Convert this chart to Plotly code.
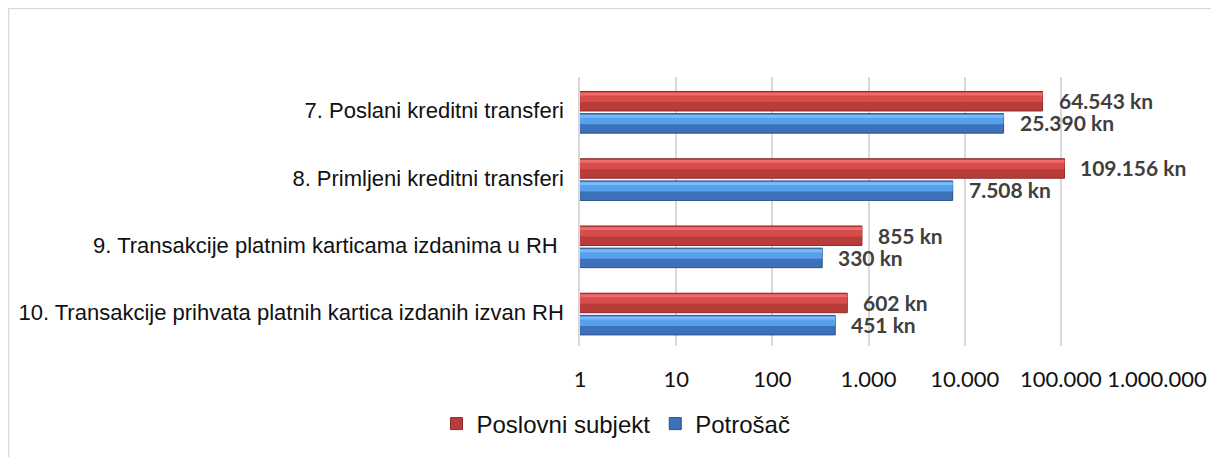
import numpy as np
import plotly.graph_objects as go

# --- Data ---
categories = [
    "7. Poslani kreditni transferi",
    "8. Primljeni kreditni transferi",
    "9. Transakcije platnim karticama izdanima u RH ",
    "10. Transakcije prihvata platnih kartica izdanih izvan RH",
]
poslovni = [64543, 109156, 855, 602]
potrosac = [25390, 7508, 330, 451]
tick_vals = [1, 10, 100, 1000, 10000, 100000, 1000000]
tick_text = ["1", "10", "100", "1.000", "10.000", "100.000", "1.000.000"]

# --- Style ---
# (base, upper half, top highlight, edge) for the bevelled bar look
RED_SHADES = ("#B93C3A", "#D84D4B", "#EE6C6A", "#8A2A2A")
BLUE_SHADES = ("#3D71BA", "#589FEC", "#7BBAF8", "#2A5185")
LABEL_GREY = "#404040"
GRID = "#D9D9D9"
BAR_W = 0.29
# page body adds an 8px margin, so the figure is drawn 8px smaller
W, H = 1211, 449
ML, MR, MT, MB = 572, 62, 69, 111
PW, PH = W - ML - MR, H - MT - MB


def px_x(p):
    return (p - ML) / PW


def px_y(p):
    return (H - MB - p) / PH


def kn(v):
    return f"{v:,} kn".replace(",", ".")


def add_bevel_bar(fig, values, name, shades, offset):
    base, upper, top, edge = shades
    fig.add_trace(go.Bar(y=categories, x=values, orientation="h", name=name,
                         offset=offset, width=BAR_W,
                         marker=dict(color=base, line=dict(color=edge, width=1))))
    fig.add_trace(go.Bar(y=categories, x=values, orientation="h", showlegend=False,
                         hoverinfo="skip", offset=offset + 0.012, width=BAR_W * 0.5,
                         marker=dict(color=upper, line=dict(width=0))))
    fig.add_trace(go.Bar(y=categories, x=values, orientation="h", showlegend=False,
                         hoverinfo="skip", offset=offset + 0.02, width=BAR_W * 0.14,
                         marker=dict(color=top, line=dict(width=0))))


fig = go.Figure()
add_bevel_bar(fig, poslovni, "Poslovni subjekt", RED_SHADES, -0.285)
add_bevel_bar(fig, potrosac, "Potrošač", BLUE_SHADES, 0.045)

# value labels to the right of each bar
label_font = dict(family="Lato", size=21, color=LABEL_GREY, weight="bold")
for cat, v in zip(categories, poslovni):
    fig.add_annotation(x=np.log10(v), y=cat, text=kn(v), showarrow=False,
                       xanchor="left", yanchor="middle", xshift=14, yshift=10,
                       font=label_font)
for cat, v in zip(categories, potrosac):
    fig.add_annotation(x=np.log10(v), y=cat, text=kn(v), showarrow=False,
                       xanchor="left", yanchor="middle", xshift=14, yshift=-12,
                       font=label_font)

# outer chart frame (runs off the right/bottom edge)
fig.add_shape(type="rect", xref="paper", yref="paper",
              x0=px_x(0.5), x1=px_x(1240), y0=px_y(480), y1=px_y(0.5),
              line=dict(color=GRID, width=1.5), layer="below")

fig.update_layout(
    width=W, height=H,
    margin=dict(l=ML, r=MR, t=MT, b=MB, autoexpand=False),
    barmode="overlay",
    plot_bgcolor="white", paper_bgcolor="white",
    font=dict(family="Liberation Sans", color="#111111"),
    showlegend=True,
    legend=dict(orientation="h", x=px_x(608), xanchor="center", y=px_y(416), yanchor="middle",
                font=dict(size=24, family="Liberation Sans", color="#111111"),
                traceorder="normal", itemwidth=30),
)
fig.update_xaxes(type="log", range=[0, 6], tickvals=tick_vals, ticktext=tick_text,
                 showgrid=True, gridcolor=GRID, gridwidth=1.5, zeroline=False,
                 showline=False, ticks="", automargin=False,
                 tickfont=dict(size=22, family="Lato", color="#111111"),
                 ticklabelstandoff=18)
fig.update_yaxes(autorange="reversed", showgrid=False, ticks="", showline=True,
                 linecolor=GRID, linewidth=1.5, automargin=False,
                 tickfont=dict(size=22, family="Liberation Sans", color="#111111"),
                 ticklabelstandoff=10)

fig.write_html("out.html")
